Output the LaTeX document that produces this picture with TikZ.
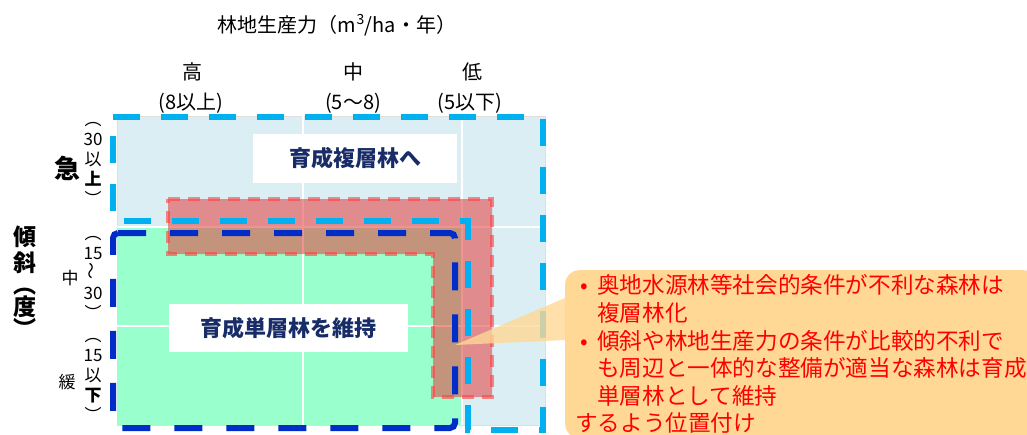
\documentclass[tikz,border=0pt]{standalone}
\usepackage{fontspec}
\usepackage{graphicx}
\setmainfont{Noto Sans CJK JP}
\usepackage{xcolor}
\usepackage{tikz}
\usetikzlibrary{calc, positioning}

\definecolor{skyfill}{RGB}{218,238,243}
\definecolor{mintfill}{RGB}{153,255,204}
\definecolor{cyanline}{RGB}{0,176,240}
\definecolor{navyline}{RGB}{0,45,200}
\definecolor{navytext}{RGB}{24,44,104}
\definecolor{redfill}{RGB}{230,60,60}
\definecolor{notefill}{RGB}{255,216,150}

\begin{document}
\begin{tikzpicture}[x=1pt, y=-1pt, font=\fontsize{20}{22}\selectfont]
	\tikzstyle{head} = [inner sep=0pt]
	\tikzstyle{vlabel} = [align=center, inner sep=0pt, font=\fontsize{17}{20}\selectfont]
	\tikzstyle{tilt} = [align=center, inner sep=0pt, font=\bfseries\fontsize{23}{26}\selectfont]
	\tikzstyle{zone} = [fill=white, text=navytext, inner sep=0pt, font=\bfseries\fontsize{22}{24}\selectfont]
	\tikzstyle{grid} = [draw=white, line width=2pt]
	\tikzstyle{multi} = [draw=cyanline, line width=6pt, dash pattern=on 27pt off 21pt]
	\tikzstyle{single} = [draw=navyline, line width=6pt, dash pattern=on 28pt off 24pt, rounded corners=5pt]
	\tikzstyle{mixed} = [fill=redfill, fill opacity=0.55, draw=red!75!white, draw opacity=0.6, line width=4pt, dash pattern=on 12pt off 8pt]
	\tikzstyle{note} = [anchor=north west, fill=notefill, rounded corners=14pt, text=red, align=left, text width=452pt, minimum width=472pt, minimum height=168pt, inner xsep=10pt, inner ysep=4pt, font=\fontsize{22.6}{27.6}\selectfont]

	\useasboundingbox (0,0) rectangle (1027,434);

	\node[head]	at (337, 25)	(t0)	{林地生産力（m\textsuperscript{3}/ha・年）};
	\node[head]	at (192, 72)	(c1)	{高};
	\node[head]	at (191, 103)	(c1r)	{(8以上)};
	\node[head]	at (353, 72)	(c2)	{中};
	\node[head]	at (353, 103)	(c2r)	{(5〜8)};
	\node[head]	at (472, 72)	(c3)	{低};
	\node[head]	at (470, 103)	(c3r)	{(5以下)};

	\node[tilt]	at (25, 282)	(s0)	{傾\\斜\\[-4pt]︵\\[-4pt]度\\[-4pt]︶};
	\node[head, font=\bfseries\fontsize{26}{26}\selectfont]	at (67, 168)	(s1)	{急};
	\node[head, font=\fontsize{17}{17}\selectfont]	at (70, 278)	(s2)	{中};
	\node[head, font=\fontsize{17}{17}\selectfont]	at (67, 382)	(s3)	{緩};
	\node[vlabel]	at (93, 164)	(r1)	{︵\\30\\以\\\textbf{上}\\︶};
	\node[vlabel]	at (93, 278)	(r2)	{︵\\15\\\rotatebox{90}{〜}\\30\\︶};
	\node[vlabel]	at (93, 380)	(r3)	{︵\\15\\以\\\textbf{下}\\︶};

	\fill[skyfill] (117, 116) rectangle (545, 425);
	\draw[gray!25, line width=1pt] (117, 116) rectangle (545, 425);
	\fill[mintfill] (117, 227) rectangle (462, 425);
	\draw[grid] (303, 116) -- (303, 425);
	\draw[grid] (462, 116) -- (462, 425);
	\draw[grid] (117, 227) -- (545, 227);
	\draw[grid] (117, 326) -- (545, 326);

	\node[zone, minimum width=204pt, minimum height=49pt]	at (355, 158)	(z1)	{育成複層林へ};
	\node[zone, minimum width=239pt, minimum height=48pt]	at (288, 328)	(z2)	{育成単層林を維持};

	\filldraw[mixed] (168, 199) -- (492, 199) -- (492, 397) -- (433, 397) -- (433, 254) -- (168, 254) -- cycle;
	\draw[multi] (113, 117) -- (543, 117) -- (543, 430) -- (468, 430) -- (468, 221) -- (113, 221) -- cycle;
	\draw[single] (113, 233) -- (455, 233) -- (455, 428) -- (113, 428) -- cycle;

	\coordinate (tip) at (455, 345);
	\node[note]	at (565, 270)	(n0)	{\hspace*{5pt}\makebox[17pt][l]{•}奥地水源林等社会的条件が不利な森林は\\
		\hspace*{22pt}複層林化\\
		\hspace*{5pt}\makebox[17pt][l]{•}傾斜や林地生産力の条件が比較的不利で\\
		\hspace*{22pt}も周辺と一体的な整備が適当な森林は育成\\
		\hspace*{22pt}単層林として維持\\
		するよう位置付け};
	\fill[notefill, opacity=0.8] (tip) -- ($(n0.north west)+(0, 28)$) -- ($(n0.north west)+(0, 70)$) -- cycle;
\end{tikzpicture}
\end{document}
